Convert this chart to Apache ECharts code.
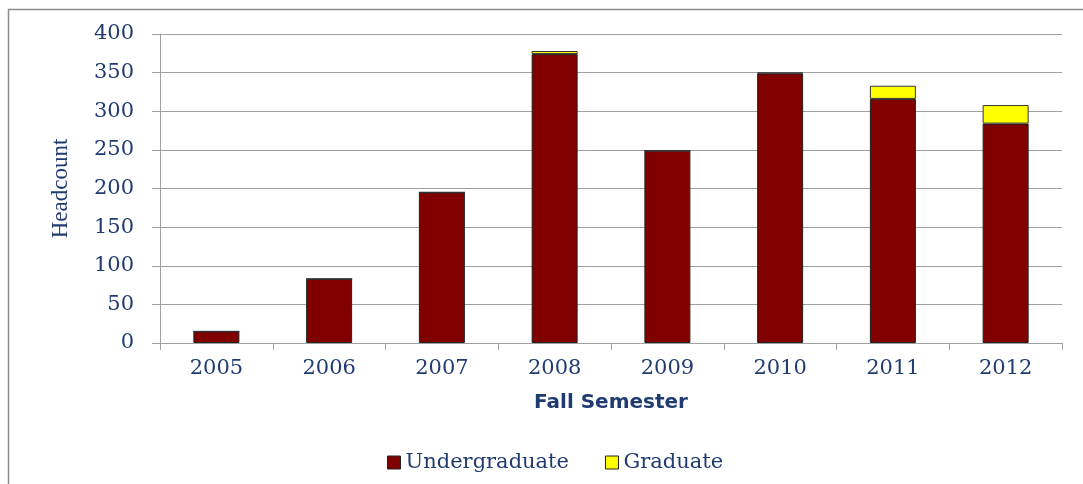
<!DOCTYPE html>
<html>
<head>
<meta charset="utf-8">
<style>
  html, body { margin: 0; padding: 0; background: #ffffff; }
  #chart { width: 1083px; height: 484px; }
</style>
<script src="https://cdn.jsdelivr.net/npm/echarts@6/dist/echarts.min.js"></script>
</head>
<body>
<div id="chart"></div>
<script>
const years = ["2005", "2006", "2007", "2008", "2009", "2010", "2011", "2012"];
const undergraduate = [15, 83, 195, 374, 249, 349, 316, 284];
const graduate = [0, 0, 0, 4, 0, 1, 17, 24];
const yTicks = { min: 0, max: 400, interval: 50 };

const textColor = "#1f3b70";
const gridColor = "#a0a0a0";

const myChart = echarts.init(document.getElementById("chart"));
const option = {
  animation: false,
  backgroundColor: "#ffffff",
  graphic: [
    {
      // outer chart frame, right and bottom edges run off the picture
      type: "rect",
      shape: { x: 8.5, y: 9.5, width: 1100, height: 500 },
      style: { fill: "none", stroke: "#8c8c8c", lineWidth: 1.5 }
    }
  ],
  grid: { left: 160, right: 21, top: 34, bottom: 141 },
  legend: {
    data: ["Undergraduate", "Graduate"],
    left: 382,
    top: 447,
    icon: "rect",
    itemWidth: 13,
    itemHeight: 13,
    itemGap: 36,
    textStyle: { fontFamily: "DejaVu Serif", fontSize: 21, color: textColor },
    itemStyle: { borderColor: "#222", borderWidth: 1 }
  },
  xAxis: {
    type: "category",
    data: years,
    name: "Fall Semester",
    nameLocation: "middle",
    nameGap: 50,
    nameTextStyle: { fontFamily: "DejaVu Sans", fontWeight: "bold", fontSize: 20, color: textColor },
    axisLine: { lineStyle: { color: gridColor, width: 1 } },
    axisTick: { show: true, length: 7, alignWithLabel: false, lineStyle: { color: gridColor } },
    axisLabel: { fontFamily: "DejaVu Serif", fontSize: 21, color: textColor, margin: 15 }
  },
  yAxis: {
    type: "value",
    min: yTicks.min,
    max: yTicks.max,
    interval: yTicks.interval,
    name: "Headcount",
    nameLocation: "middle",
    nameRotate: 90,
    nameGap: 88,
    nameTextStyle: { fontFamily: "Liberation Serif", fontSize: 23, color: textColor },
    axisLine: { show: true, lineStyle: { color: gridColor, width: 1 } },
    axisTick: { show: true, length: 8, lineStyle: { color: gridColor } },
    splitLine: { lineStyle: { color: gridColor, width: 1 } },
    axisLabel: { fontFamily: "DejaVu Serif", fontSize: 21, color: textColor, margin: 26 }
  },
  series: [
    {
      name: "Undergraduate",
      type: "bar",
      stack: "total",
      barWidth: 46,
      data: undergraduate,
      itemStyle: { color: "#800000", borderColor: "#222", borderWidth: 1 }
    },
    {
      name: "Graduate",
      type: "bar",
      stack: "total",
      barWidth: 46,
      data: graduate,
      itemStyle: { color: "#ffff00", borderColor: "#333", borderWidth: 1 }
    }
  ]
};
myChart.setOption(option);
</script>
</body>
</html>
